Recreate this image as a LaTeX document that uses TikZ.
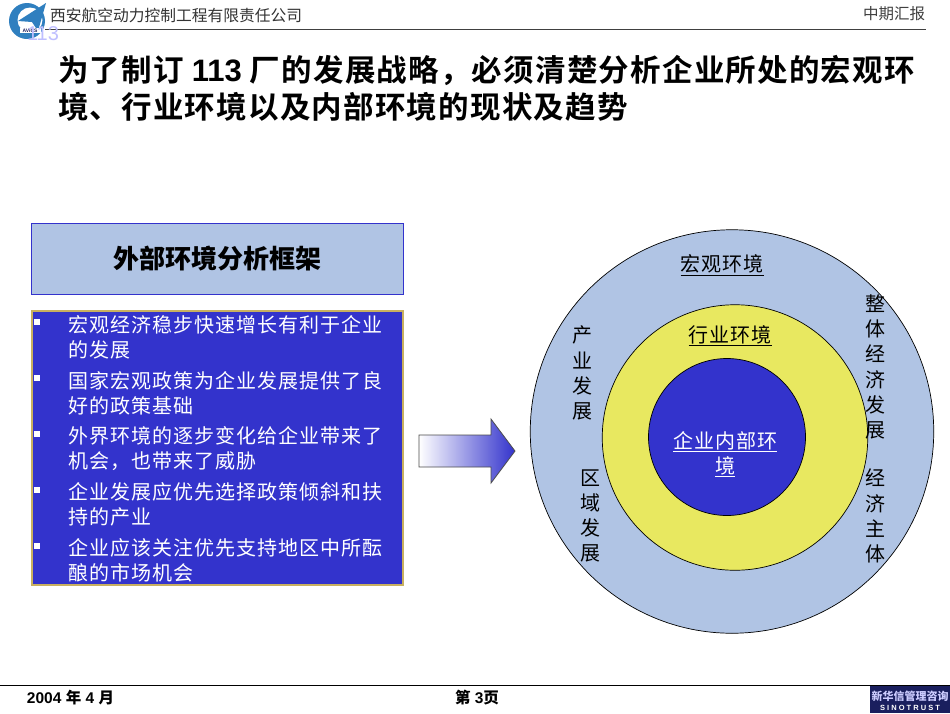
\documentclass[tikz,border=0pt]{standalone}
\usepackage{fontspec}
\setmainfont{Liberation Sans}
\newfontfamily\cjk{Noto Sans CJK SC}
\newfontfamily\cjkbody[LetterSpace=5]{Noto Sans CJK SC}
\newfontfamily\cjktitle[LetterSpace=4]{Noto Sans CJK SC}[BoldFont={Noto Sans CJK SC Bold}]
\usetikzlibrary{shadings}
\definecolor{paleblue}{HTML}{B0C4E4}
\definecolor{royal}{HTML}{3333CC}
\definecolor{lemon}{HTML}{E8E860}
\definecolor{tanline}{HTML}{C8B060}
\definecolor{navy}{HTML}{1A1F5E}
\definecolor{logoblue}{HTML}{2F7FBF}
\tikzset{
  x=1pt,y=-1pt,
  every node/.style={inner sep=0pt,outer sep=0pt},
  ring/.style={draw=black,line width=0.7pt},
  itemtext/.style={anchor=west,align=left,text=white,font={\fontsize{20}{25}\selectfont\cjkbody}},
  bulletmark/.style={fill=white,minimum size=6pt,draw=none},
  ringlabel/.style={font={\fontsize{20}{25}\selectfont\cjkbody},text=black,align=center},
  stacklabel/.style={font={\fontsize{20}{25.2}\selectfont\cjk},text=black,align=center},
  titletext/.style={anchor=west,font={\fontsize{30.5}{36}\selectfont\cjktitle\bfseries},text=black},
}
\begin{document}
\begin{tikzpicture}
\useasboundingbox (0,0) rectangle (950,713);
\fill[white] (0,0) rectangle (950,713);
% header
\draw[black!75,line width=1pt] (45,29) -- (926,29);
\node[anchor=west,font={\fontsize{15.75}{18}\selectfont\cjk},text=black!80] (company) at (50,15) {西安航空动力控制工程有限责任公司};
\node[anchor=east,font={\fontsize{15.5}{18}\selectfont\cjk},text=black!75] (report) at (925,14) {中期汇报};
% logo
\fill[logoblue] (27,21) circle (18);
\fill[white] (30,20) circle (12.5);
\fill[logoblue] (46,3) -- (38,31) -- (32,22) -- (18,21) -- cycle;
\fill[white] (20,28) rectangle (41,33);
\node[font={\fontsize{5}{6}\selectfont\bfseries},text=navy] (logotext) at (30,30.5) {AVICS};
\node[font={\fontsize{20}{22}\selectfont},text=blue!25!white] (pale) at (43,34) {113};
% title
\node[titletext] (title1) at (58,70) {为了制订\ {\fontsize{31}{36}\selectfont\bfseries\rmfamily 113}\ 厂的发展战略，必须清楚分析企业所处的宏观环};
\node[titletext] (title2) at (58,107) {境、行业环境以及内部环境的现状及趋势};
% left heading
\node[draw=royal,fill=paleblue,line width=0.8pt,minimum width=372.5pt,minimum height=71.5pt,anchor=north west,font={\fontsize{26}{30}\selectfont\cjk\bfseries}] (head) at (31,223) {\raisebox{-1pt}{外部环境分析框架}};
% blue box
\node[draw=tanline,fill=royal,line width=1.2pt,minimum width=371pt,minimum height=274pt,anchor=north west] (panel) at (32,311) {};
\node[bulletmark] (b1) at (36.5,322) {};
\node[bulletmark] (b2) at (36.5,378) {};
\node[bulletmark] (b3) at (36.5,434) {};
\node[bulletmark] (b4) at (36.5,490) {};
\node[bulletmark] (b5) at (36.5,546) {};
\node[itemtext] (i1) at (68,337) {宏观经济稳步快速增长有利于企业\\的发展};
\node[itemtext] (i2) at (68,393) {国家宏观政策为企业发展提供了良\\好的政策基础};
\node[itemtext] (i3) at (68,449) {外界环境的逐步变化给企业带来了\\机会，也带来了威胁};
\node[itemtext] (i4) at (68,504) {企业发展应优先选择政策倾斜和扶\\持的产业};
\node[itemtext] (i5) at (68,560) {企业应该关注优先支持地区中所酝\\酿的市场机会};
% arrow
\draw[black!70,line width=0.8pt,left color=white,right color=royal]
  (419,435) -- (491,435) -- (491,419) -- (515,451) -- (491,483) -- (491,467) -- (419,467) -- cycle;
% circles
\node[ring,circle,fill=paleblue,minimum size=403.5pt] (outer) at (732,431.5) {};
\node[ring,circle,fill=lemon,minimum size=265.5pt] (middle) at (735,437.5) {};
\node[ring,circle,fill=royal,minimum size=157pt] (inner) at (727,437) {};
\node[ringlabel] (macro) at (722,265) {\underline{宏观环境}};
\node[ringlabel] (industry) at (730,336) {\underline{行业环境}};
\node[ringlabel,text=white] (firm) at (725,454) {\underline{企业内部环}\\[0pt]\underline{境}};
\node[stacklabel] (s1) at (582,373) {产\\业\\发\\展};
\node[stacklabel] (s2) at (590,516) {区\\域\\发\\展};
\node[stacklabel] (s3) at (875,367) {整\\体\\经\\济\\发\\展};
\node[stacklabel] (s4) at (875,516) {经\\济\\主\\体};
% footer
\draw[black,line width=1pt] (0,685.5) -- (950,685.5);
\node[anchor=west,font={\fontsize{15.5}{18}\selectfont\bfseries}] (date) at (27,698) {2004 {\cjk\bfseries 年} 4 {\cjk\bfseries 月}};
\node[font={\fontsize{15.5}{18}\selectfont\bfseries}] (page) at (477,698) {{\cjk\bfseries 第} 3{\cjk\bfseries 页}};
\fill[navy] (870,686) rectangle (950,713);
\node[font={\fontsize{11}{13}\selectfont\cjk\bfseries},text=white!80!blue] (brand) at (910,696) {新华信管理咨询};
\node[font={\fontsize{7.5}{9}\selectfont\bfseries},text=white] (brand2) at (910,708) {S I N O T R U S T};
\end{tikzpicture}
\end{document}
